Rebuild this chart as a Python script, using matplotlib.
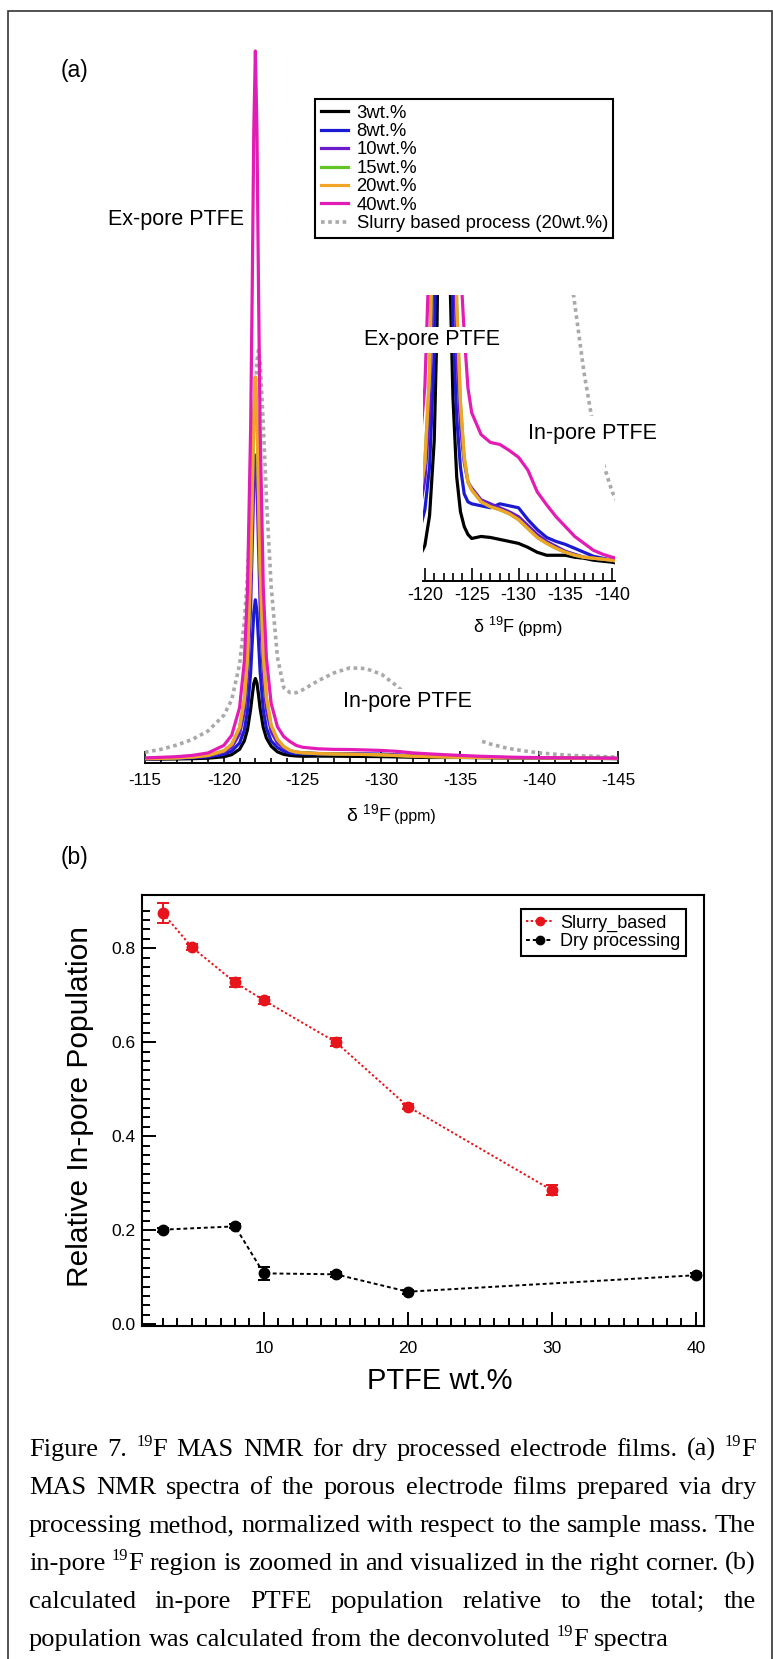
import matplotlib
matplotlib.use("Agg")
import matplotlib.pyplot as plt
import numpy as np
from matplotlib.ticker import MultipleLocator, FixedLocator
from matplotlib.patches import Rectangle

plt.rcParams['font.family'] = ['Liberation Sans', 'DejaVu Sans']
plt.rcParams['mathtext.fontset'] = 'custom'
plt.rcParams['mathtext.rm'] = 'Liberation Sans'
plt.rcParams['mathtext.default'] = 'regular'
plt.rcParams['axes.unicode_minus'] = False

# ---------------- (a) 19F MAS NMR spectra ----------------
ppm = [-115, -116, -117, -118, -119, -120, -120.5, -121, -121.3, -121.5, -121.7, -121.8,
       -121.9, -122.0, -122.1, -122.2, -122.3, -122.5, -122.7, -123.0, -123.4, -123.8,
       -124.2, -124.6, -125, -126, -127, -128, -129, -130, -131, -132, -133, -134, -135,
       -136, -137, -138, -139, -140, -142, -145]

wt3 = [0.12, 0.13, 0.15, 0.19, 0.26, 0.46, 0.76, 1.52, 2.7, 4.3, 7.15, 9.05, 10.8, 11.5,
       10.85, 9.2, 7.3, 4.6, 3.1, 1.95, 1.15, 0.8, 0.65, 0.57, 0.53, 0.55, 0.54, 0.52, 0.5,
       0.48, 0.44, 0.39, 0.36, 0.36, 0.36, 0.34, 0.33, 0.31, 0.3, 0.29, 0.25, 0.2]
wt8 = [0.2, 0.22, 0.26, 0.32, 0.45, 0.82, 1.25, 2.4, 4.2, 6.9, 12.3, 16.6, 20.8, 22.6,
       20.9, 16.8, 12.5, 7.1, 4.5, 2.7, 1.75, 1.25, 0.98, 0.9, 0.88, 0.86, 0.84, 0.88, 0.86,
       0.84, 0.72, 0.62, 0.54, 0.5, 0.47, 0.43, 0.39, 0.35, 0.33, 0.31, 0.27, 0.22]
wt10 = [0.18, 0.21, 0.27, 0.37, 0.58, 1.12, 1.8, 3.7, 6.8, 11.5, 21.6, 29.9, 38.8, 43,
        38.8, 30.0, 21.8, 11.8, 7.1, 4.0, 2.4, 1.65, 1.3, 1.1, 1.04, 0.92, 0.88, 0.84, 0.8,
        0.75, 0.66, 0.57, 0.5, 0.45, 0.4, 0.37, 0.34, 0.33, 0.32, 0.31, 0.27, 0.22]
wt15 = [0.2, 0.24, 0.3, 0.42, 0.65, 1.3, 2.2, 4.6, 8.5, 14.4, 27.1, 37.5, 48.7, 54,
        48.7, 37.6, 27.3, 14.7, 8.8, 4.9, 2.9, 1.9, 1.35, 1.1, 1.02, 0.9, 0.85, 0.82, 0.78,
        0.72, 0.63, 0.54, 0.48, 0.43, 0.39, 0.36, 0.34, 0.33, 0.32, 0.31, 0.27, 0.22]
wt20 = [0.2, 0.24, 0.3, 0.42, 0.65, 1.3, 2.2, 4.6, 8.5, 14.4, 27.1, 37.5, 48.7, 54,
        48.7, 37.6, 27.3, 14.7, 8.8, 4.9, 2.9, 1.9, 1.35, 1.1, 1.02, 0.9, 0.85, 0.82, 0.78,
        0.72, 0.63, 0.54, 0.48, 0.43, 0.39, 0.36, 0.34, 0.33, 0.32, 0.31, 0.27, 0.22]
wt40 = [0.3, 0.38, 0.47, 0.65, 1.0, 2.06, 3.5, 7.4, 13.9, 24.0, 46.7, 66.3, 88.8, 100,
        88.8, 66.4, 47.0, 24.4, 14.4, 8.0, 4.7, 3.3, 2.6, 2.05, 1.8, 1.58, 1.5, 1.48, 1.42,
        1.35, 1.22, 1.0, 0.87, 0.75, 0.65, 0.55, 0.48, 0.41, 0.37, 0.34, 0.3, 0.25]
slurry = [1.1, 1.5, 2.1, 2.9, 4.1, 6.3, 8.5, 13.5, 19.5, 26, 35.5, 41.5, 47, 52.5,
          56.3, 57.8, 56.3, 47.5, 37, 24.5, 14.5, 10.2, 9.5, 9.5, 9.9, 11.2, 12.3, 13.0, 12.9,
          12.1, 10.4, 8.2, 6.2, 4.6, 3.6, 2.9, 2.2, 1.65, 1.3, 1.0, 0.65, 0.4]

spectra = [wt3, wt8, wt10, wt15, wt20, wt40]
spec_labels = ["3wt.%", "8wt.%", "10wt.%", "15wt.%", "20wt.%", "40wt.%"]
spec_colors = ["#000000", "#1a1ad2", "#6a1ccc", "#62c425", "#f2a427", "#e21cb4"]
slurry_label = "Slurry based process (20wt.%)"

# ---------------- (b) relative in-pore population ----------------
slurry_wt = [3, 5, 8, 10, 15, 20, 30]
slurry_pop = [0.874, 0.802, 0.727, 0.689, 0.600, 0.463, 0.285]
slurry_err = [0.021, 0.006, 0.010, 0.008, 0.008, 0.006, 0.010]
dry_wt = [3, 8, 10, 15, 20, 40]
dry_pop = [0.201, 0.208, 0.108, 0.106, 0.069, 0.104]
dry_err = [0.004, 0.004, 0.014, 0.005, 0.004, 0.004]

caption = [
    "Figure 7. ^19F MAS NMR for dry processed electrode films. (a) ^19F",
    "MAS NMR spectra of the porous electrode films prepared via dry",
    "processing method, normalized with respect to the sample mass. The",
    "in-pore ^19F region is zoomed in and visualized in the right corner. (b)",
    "calculated in-pore PTFE population relative to the total; the",
    "population was calculated from the deconvoluted ^19F spectra",
]

W, H = 773, 1659
fig = plt.figure(figsize=(W / 100, H / 100), dpi=100)


def fx(px):
    return px / W


def fy(py):
    return 1 - py / H


def box(l, t, r, b):
    return [fx(l), fy(b), fx(r) - fx(l), fy(t) - fy(b)]


def nmr_axis(a, major_len, minor_len, lsize, pad):
    a.patch.set_alpha(0)
    for s in ("left", "top", "right"):
        a.spines[s].set_visible(False)
    a.spines["bottom"].set_linewidth(1.4)
    a.set_yticks([])
    a.xaxis.set_major_locator(MultipleLocator(5))
    a.xaxis.set_minor_locator(MultipleLocator(1))
    a.tick_params(axis="x", which="major", direction="in", length=major_len, width=1.2,
                  labelsize=lsize, pad=pad)
    a.tick_params(axis="x", which="minor", direction="in", length=minor_len, width=1.2)


# main spectrum axes
ax = fig.add_axes(box(145, 40, 618, 763))
for vals, lab, col in zip(spectra, spec_labels, spec_colors):
    ax.plot(ppm, vals, color=col, lw=2.3, label=lab, zorder=3)
ax.plot(ppm, slurry, color="#a9a9a9", lw=2.6, ls=(0, (1, 1)), label=slurry_label, zorder=2)
ax.set_xlim(-115, -145)
ax.set_ylim(-0.42, 101.55)
nmr_axis(ax, 8.4, 3.8, 12.3, 7)
# opaque background of the "In-pore PTFE" annotation
ax.add_patch(Rectangle((-131.6, 2.2), -4.6, 8.0, facecolor="white", edgecolor="none", zorder=4))

leg = ax.legend(loc="upper left", bbox_to_anchor=(fx(315), fy(99)), bbox_transform=fig.transFigure,
                borderaxespad=0, fontsize=13.3, fancybox=False, edgecolor="black", framealpha=1,
                handlelength=1.5, handletextpad=0.45, labelspacing=0.08, borderpad=0.3)
leg.get_frame().set_linewidth(1.5)

# inset (zoom of the in-pore region)
axi = fig.add_axes(box(423, 295, 615, 581))
for vals, col in zip(spectra, spec_colors):
    axi.plot(ppm, vals, color=col, lw=2.3, zorder=3)
axi.plot(ppm, slurry, color="#a9a9a9", lw=2.6, ls=(0, (1, 1)), zorder=2)
axi.set_xlim(-119.8, -140.3)
axi.set_ylim(0.1, 2.99)
nmr_axis(axi, 9.1, 5.5, 13, 4.5)
axi.add_patch(Rectangle((-137.4, 1.22), -1.8, 0.55, facecolor="white", edgecolor="none", zorder=4))

txt = dict(ha="center", va="center", fontsize=15.5)
wbox = dict(facecolor="white", edgecolor="none", pad=1.5)
fig.text(fx(74), fy(70), "(a)", ha="center", va="center", fontsize=16.5)
fig.text(fx(175.5), fy(220), "Ex-pore PTFE", **txt)
fig.text(fx(432), fy(340), "Ex-pore PTFE", bbox=wbox, zorder=5, **txt)
fig.text(fx(592), fy(433), "In-pore PTFE", bbox=wbox, zorder=5, **txt)
fig.text(fx(407.5), fy(702), "In-pore PTFE", bbox=wbox, zorder=5, **txt)

fig.text(fx(391), fy(821), "δ $^{19}$F", ha="right", va="baseline", fontsize=14)
fig.text(fx(394), fy(821), "(ppm)", ha="left", va="baseline", fontsize=11.5)
fig.text(fx(515), fy(633), "δ $^{19}$F", ha="right", va="baseline", fontsize=13)
fig.text(fx(518), fy(633), "(ppm)", ha="left", va="baseline", fontsize=12.5)

# ---------------- panel (b) ----------------
fig.text(fx(75), fy(858), "(b)", ha="center", va="center", fontsize=16.5)
axb = fig.add_axes(box(142, 895, 704, 1326))
red = "#e8141b"
axb.errorbar(slurry_wt, slurry_pop, yerr=slurry_err, fmt="none", ecolor=red, elinewidth=1.4,
             capsize=4, capthick=1.4, zorder=3)
axb.plot(slurry_wt, slurry_pop, color=red, ls=(0, (1.2, 1.2)), lw=1.4, marker="o", ms=7.5,
         label="Slurry_based", zorder=4)
axb.errorbar(dry_wt, dry_pop, yerr=dry_err, fmt="none", ecolor="black", elinewidth=1.4,
             capsize=4, capthick=1.4, zorder=3)
axb.plot(dry_wt, dry_pop, color="black", ls=(0, (2, 1.5)), lw=1.4, marker="o", ms=7.5,
         label="Dry processing", zorder=4)
axb.set_xlim(1.54, 40.57)
axb.set_ylim(-0.004, 0.913)
axb.xaxis.set_major_locator(FixedLocator([10, 20, 30, 40]))
axb.xaxis.set_minor_locator(FixedLocator(list(range(3, 41))))
axb.yaxis.set_major_locator(MultipleLocator(0.2))
axb.yaxis.set_minor_locator(FixedLocator([i * 0.02 for i in range(1, 45)]))
axb.yaxis.set_major_formatter(matplotlib.ticker.FormatStrFormatter("%.1f"))
axb.tick_params(which="major", direction="in", length=10, width=1.4, labelsize=12.5)
axb.tick_params(which="minor", direction="in", length=5.5, width=1.4)
axb.tick_params(axis="x", pad=11)
axb.tick_params(axis="y", pad=5)
for s in axb.spines.values():
    s.set_linewidth(1.5)
axb.set_ylabel("Relative In-pore Population", fontsize=21.5)
axb.yaxis.set_label_coords(-0.085, 0.51)
axb.set_xlabel("PTFE wt.%", fontsize=21)
axb.xaxis.set_label_coords(0.53, -0.095)
legb = axb.legend(loc="upper right", bbox_to_anchor=(fx(686), fy(909)), bbox_transform=fig.transFigure,
                  borderaxespad=0, fontsize=13, fancybox=False, edgecolor="black", framealpha=1,
                  handlelength=1.5, handletextpad=0.4, labelspacing=0.1, borderpad=0.3,
                  markerscale=0.8)
legb.get_frame().set_linewidth(1.5)

# outer frame of the figure page
fig.add_artist(Rectangle((fx(8), fy(1700)), fx(771.5) - fx(8), fy(11) - fy(1700),
                         transform=fig.transFigure, fill=False, lw=1.2, edgecolor="#333333"))

# ---------------- justified caption ----------------
cap_font = "Liberation Serif"
renderer = fig.canvas.get_renderer()


def text_w(s, size):
    t = fig.text(0, 0, s, fontsize=size, family=cap_font)
    w = t.get_window_extent(renderer).width
    t.remove()
    return w


def split_word(word):
    if word.startswith("^"):
        i = 1
        while word[i].isdigit():
            i += 1
        return [(word[1:i], True), (word[i:], False)]
    return [(word, False)]


base = 20.0
left, right = 29, 756
words = [[split_word(w) for w in line.split()] for line in caption]
space0 = text_w("a a", base) - text_w("aa", base)
natural = []
for line in words:
    tot = sum(text_w(p, base * (0.62 if sup else 1)) for wd in line for p, sup in wd)
    natural.append(tot + space0 * (len(line) - 1))
size = base * (right - left) / max(natural[:-1])

for i, line in enumerate(words):
    yb = 1456 + 38 * i
    widths = [[text_w(p, size * (0.62 if sup else 1)) for p, sup in wd] for wd in line]
    tot = sum(sum(w) for w in widths)
    if i < len(words) - 1:
        gap = (right - left - tot) / (len(line) - 1)
    else:
        gap = space0 * size / base
    x = left
    for wd, ws in zip(line, widths):
        for (p, sup), w in zip(wd, ws):
            if sup:
                fig.text(fx(x), fy(yb - 0.38 * size * 100 / 72), p, fontsize=size * 0.62,
                         family=cap_font, va="baseline", ha="left")
            else:
                fig.text(fx(x), fy(yb), p, fontsize=size, family=cap_font, va="baseline", ha="left")
            x += w
        x += gap

fig.savefig("out.png", dpi=100)
